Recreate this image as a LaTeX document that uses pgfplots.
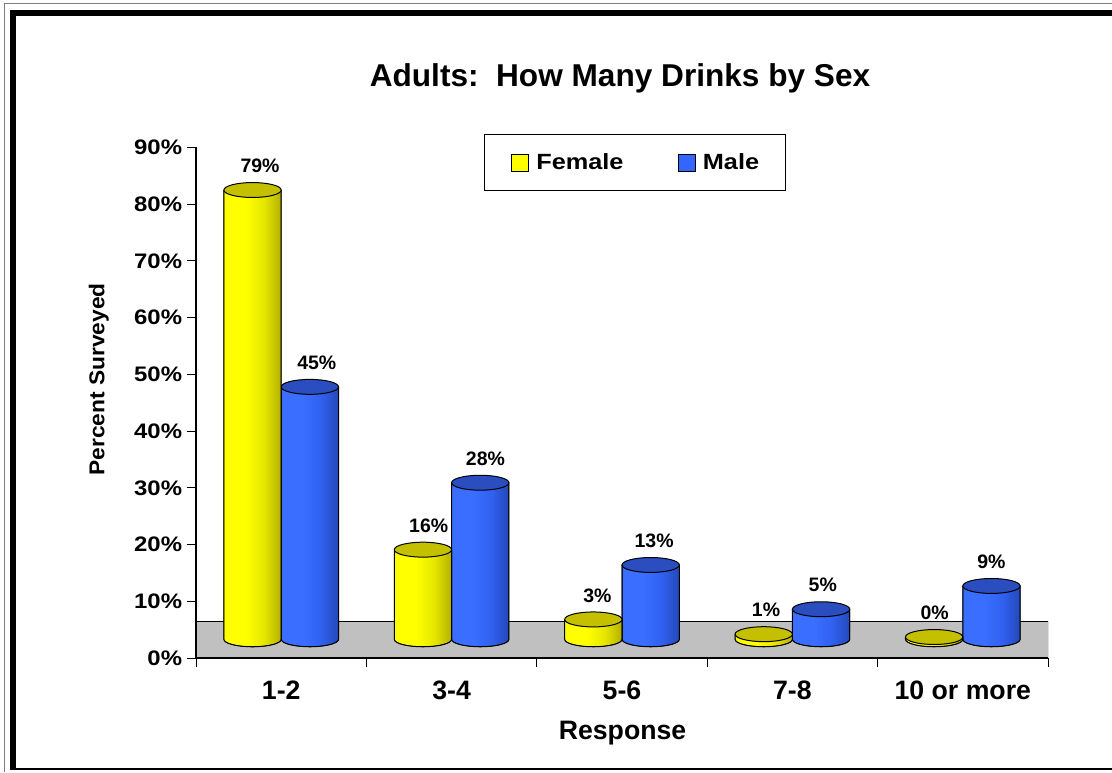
\documentclass[border=0pt]{standalone}
\usepackage{fontspec}
\setmainfont{Liberation Sans}
\newfontfamily\stretchfont{Liberation Sans}[FakeStretch=1.14]
\newfontfamily\legfont{Liberation Sans}[FakeStretch=1.15]
\newfontfamily\ylabfont{Liberation Sans}[FakeStretch=1.06]
\usepackage{pgfplots}
\usepackage{pgfplotstable}
\pgfplotsset{compat=1.18}

\definecolor{fyA}{HTML}{FFFF00}
\definecolor{fyB}{HTML}{E6E600}
\definecolor{fyC}{HTML}{B4B000}
\definecolor{fyTop}{HTML}{C4C000}
\definecolor{mA}{HTML}{3A6EFF}
\definecolor{mB}{HTML}{3060EE}
\definecolor{mC}{HTML}{2348B8}
\definecolor{mTop}{HTML}{2A4EC0}
\definecolor{legY}{HTML}{FFFF00}
\definecolor{legB}{HTML}{3366FF}
\definecolor{floorgray}{HTML}{C0C0C0}

\pgfdeclarehorizontalshading{fshade}{100bp}{color(0bp)=(fyA); color(25bp)=(fyA); color(44bp)=(fyA); color(60bp)=(fyB); color(75bp)=(fyC); color(100bp)=(fyC)}
\pgfdeclarehorizontalshading{mshade}{100bp}{color(0bp)=(mA); color(25bp)=(mA); color(44bp)=(mA); color(60bp)=(mB); color(75bp)=(mC); color(100bp)=(mC)}

% whole cylinder drawn as a mark placed at the top of the bar; \hgt = bar height in pt
\pgfdeclareplotmark{fcyl}{%
  \shade[shading=fshade] (-43pt,0pt) -- (-43pt,-\hgt pt) arc[start angle=180, end angle=360, x radius=21.5pt, y radius=5.6pt] -- (0pt,0pt) -- cycle;
  \draw[line width=0.75pt, line join=round] (-43pt,0pt) -- (-43pt,-\hgt pt) arc[start angle=180, end angle=360, x radius=21.5pt, y radius=5.6pt] -- (0pt,0pt);
  \filldraw[fill=fyTop, draw=black, line width=0.75pt] (-21.5pt,0pt) ellipse [x radius=21.5pt, y radius=5.6pt];}
\pgfdeclareplotmark{mcyl}{%
  \shade[shading=mshade] (0pt,0pt) -- (0pt,-\hgt pt) arc[start angle=180, end angle=360, x radius=21.5pt, y radius=5.6pt] -- (43pt,0pt) -- cycle;
  \draw[line width=0.75pt, line join=round] (0pt,0pt) -- (0pt,-\hgt pt) arc[start angle=180, end angle=360, x radius=21.5pt, y radius=5.6pt] -- (43pt,0pt);
  \filldraw[fill=mTop, draw=black, line width=0.75pt] (21.5pt,0pt) ellipse [x radius=21.5pt, y radius=5.6pt];}

\pgfplotstableread{
x fv fl fdx mv ml mdx
0 79.2 79 -15.9 44.5 45 26.7
1 15.8 16 -17.2 27.6 28 25.4
2 3.5  3  -18.5 13.1 13 24.1
3 0.9  1  -19.8 5.3  5  22.8
4 0.4  0  -21.1 9.4  9  21.5
}\datatable

\begin{document}
\begin{tikzpicture}
\useasboundingbox (0pt,0pt) rectangle (834pt,579pt);
% outer frame
\draw[gray, line width=0.75pt] (834pt,576pt) -- (3pt,576pt) -- (3pt,0pt);
\draw[black, line width=5pt] (834pt,569.25pt) -- (9.75pt,569.25pt) -- (9.75pt,2.25pt);
\draw[black, line width=1pt] (7.25pt,2.25pt) -- (834pt,2.25pt);

\begin{axis}[
  at={(147pt,85.5pt)}, anchor=south west,
  scale only axis, width=639pt, height=382.9pt,
  xmin=-0.5, xmax=4.5, ymin=0, ymax=90,
  axis x line*=bottom, axis y line*=left,
  axis on top,
  axis line style={line width=1pt, black},
  tick style={black, line width=0.75pt},
  tick align=outside,
  major tick length=7pt,
  xtick={-0.5,0.5,1.5,2.5,3.5,4.5},
  xticklabels={},
  extra x ticks={0,1,2,3,4},
  extra x tick labels={1-2,3-4,5-6,7-8,10 or more},
  extra x tick style={major tick length=0pt,
    tick label style={font=\fontsize{20}{24}\selectfont\bfseries, inner sep=0pt, anchor=north, yshift=-17pt}},
  ytick={0,10,...,90},
  yticklabel={\pgfmathprintnumber{\tick}\%},
  /pgf/number format/assume math mode=true,
  yticklabel style={font=\stretchfont\fontsize{15.75}{18}\selectfont\bfseries, inner sep=0pt, anchor=east, xshift=-3.25pt},
  legend columns=2,
  legend image code/.code={\draw[#1, line width=0.75pt] (0pt,-6.5pt) rectangle (13pt,6.5pt);},
  legend style={at={(0.5153,0.9702)}, anchor=center, draw=black, line width=0.75pt,
    inner xsep=19.7pt, inner ysep=14pt,
    font=\legfont\fontsize{16.5}{18}\selectfont\bfseries,
    nodes={inner sep=0pt},
    /tikz/every odd column/.append style={column sep=5.3pt},
    /tikz/every even column/.append style={column sep=40.5pt}},
]
\addplot[forget plot, fill=floorgray, draw=black, line width=0.75pt] coordinates {(-0.5,6.43) (4.5,6.43)} \closedcycle;
\addlegendimage{fill=legY, draw=black}
\addlegendentry{Female}
\addlegendimage{fill=legB, draw=black}
\addlegendentry{Male}
\end{axis}

\begin{axis}[
  at={(147pt,85.5pt)}, anchor=south west,
  scale only axis, width=639pt, height=382.9pt,
  xmin=-0.5, xmax=4.5, ymin=-3.3, ymax=86.7,
  hide axis, clip=false,
]
% Male cylinders (drawn first, behind)
\addplot[only marks, mark=mcyl, visualization depends on={\thisrow{mv}*4.25444\as\hgt}] table[x=x, y=mv] {\datatable};
% Female cylinders
\addplot[only marks, mark=fcyl, visualization depends on={\thisrow{fv}*4.25444\as\hgt}] table[x=x, y=fv] {\datatable};
% value labels
\addplot[draw=none, mark=none, point meta=explicit symbolic,
  visualization depends on={\thisrow{mdx}\as\ndx},
  nodes near coords={\pgfplotspointmeta\%},
  every node near coord/.append style={anchor=base, xshift=\ndx pt, yshift=13pt, text=black,
    font=\fontsize{14.6}{17}\selectfont\bfseries}]
  table[x=x, y=mv, meta=ml] {\datatable};
\addplot[draw=none, mark=none, point meta=explicit symbolic,
  visualization depends on={\thisrow{fdx}\as\ndx},
  nodes near coords={\pgfplotspointmeta\%},
  every node near coord/.append style={anchor=base, xshift=\ndx pt, yshift=13pt, text=black,
    font=\fontsize{14.6}{17}\selectfont\bfseries}]
  table[x=x, y=fv, meta=fl] {\datatable};
\end{axis}

\node[anchor=base, font=\fontsize{23.7}{28}\selectfont\bfseries] at (465pt,513.9pt) {Adults:\ \ How Many Drinks by Sex};
\node[anchor=base, rotate=90, font=\ylabfont\fontsize{16.1}{19}\selectfont\bfseries] at (78.2pt,294.4pt) {Percent Surveyed};
\node[anchor=base, font=\fontsize{20}{24}\selectfont\bfseries] at (466.9pt,24.5pt) {Response};
\end{tikzpicture}
\end{document}
